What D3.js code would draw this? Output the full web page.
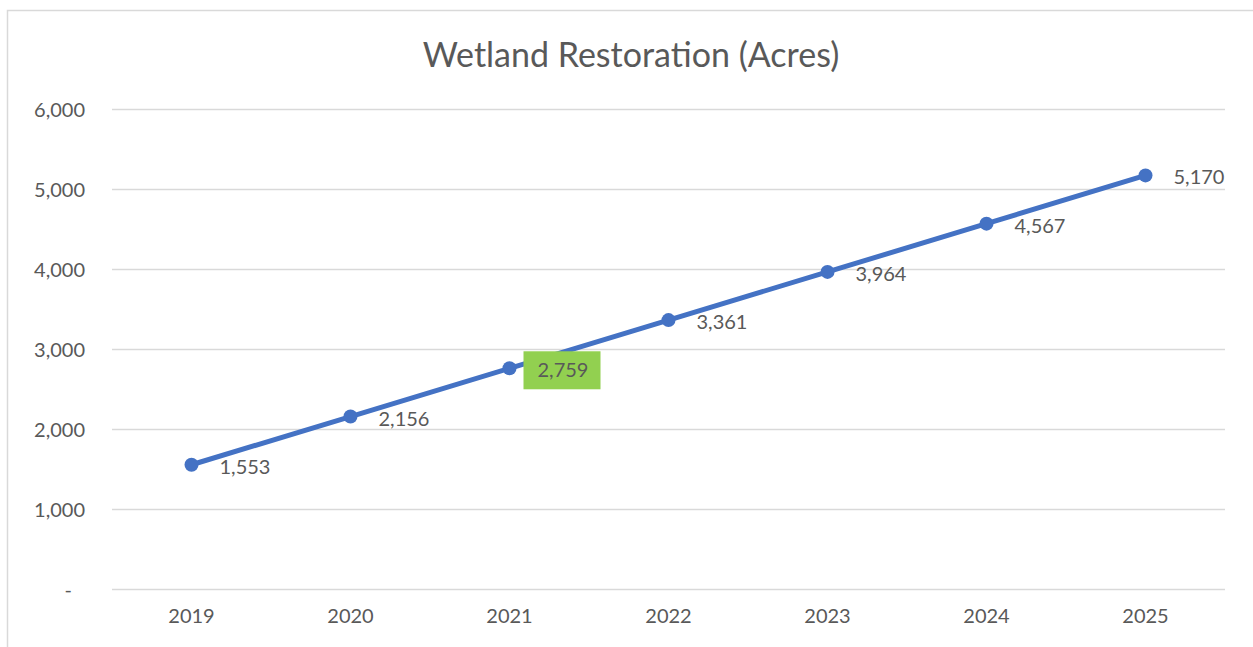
<!DOCTYPE html>
<html>
<head>
<meta charset="utf-8">
<script src="https://cdn.jsdelivr.net/npm/d3@7"></script>
<style>
  body { margin: 0; background: #fff; }
  text { font-family: Lato, "Open Sans", sans-serif; fill: #595959; }
</style>
</head>
<body>
<div id="chart"></div>
<script>
// chart data
var years = ["2019", "2020", "2021", "2022", "2023", "2024", "2025"];
var acres = [1553, 2156, 2759, 3361, 3964, 4567, 5170];
var yTicks = [0, 1000, 2000, 3000, 4000, 5000, 6000];
var highlightYear = "2021";

var width = 1253, height = 647;
var margin = {top: 109, right: 28, bottom: 58, left: 112};

var svg = d3.select("#chart").append("svg")
    .attr("width", width)
    .attr("height", height);

// chart area border (only top and left visible in the crop)
svg.append("path")
    .attr("d", "M7.5," + height + "V10.5H" + width)
    .attr("fill", "none")
    .attr("stroke", "#d9d9d9")
    .attr("stroke-width", 1.5);

var x = d3.scaleBand()
    .domain(years)
    .range([margin.left, width - margin.right]);

var y = d3.scaleLinear()
    .domain([0, 6000])
    .range([height - margin.bottom, margin.top]);

var fmt = d3.format(",");

// gridlines
svg.append("g")
    .selectAll("line")
    .data(yTicks)
    .enter().append("line")
    .attr("x1", margin.left)
    .attr("x2", width - margin.right)
    .attr("y1", function(d) { return y(d) + 0.5; })
    .attr("y2", function(d) { return y(d) + 0.5; })
    .attr("stroke", "#d9d9d9")
    .attr("stroke-width", 1.5);

// y axis labels
var yAxis = d3.axisLeft(y)
    .tickValues(yTicks)
    .tickSize(0)
    .tickPadding(0)
    .tickFormat(function(d) { return d === 0 ? "-" : fmt(d); });

var gy = svg.append("g")
    .attr("transform", "translate(85,0)")
    .call(yAxis);
gy.select(".domain").remove();
gy.selectAll("text")
    .attr("font-size", 20)
    .attr("fill", "#595959")
    .attr("dy", "0.35em")
    .attr("dx", function(d) { return d === 0 ? -13 : 0; });

// x axis labels
var xAxis = d3.axisBottom(x).tickSize(0).tickPadding(0);
var gx = svg.append("g")
    .attr("transform", "translate(0," + (y(0) + 20) + ")")
    .call(xAxis);
gx.select(".domain").remove();
gx.selectAll("text")
    .attr("font-size", 20)
    .attr("fill", "#595959")
    .attr("dy", "0.71em");

// title
svg.append("text")
    .attr("x", 631)
    .attr("y", 67)
    .attr("text-anchor", "middle")
    .attr("font-size", 34)
    .text("Wetland Restoration (Acres)");

var points = years.map(function(d, i) { return {year: d, value: acres[i]}; });

var line = d3.line()
    .x(function(d) { return x(d.year) + x.bandwidth() / 2; })
    .y(function(d) { return y(d.value); });

svg.append("path")
    .datum(points)
    .attr("d", line)
    .attr("fill", "none")
    .attr("stroke", "#4472c4")
    .attr("stroke-width", 5)
    .attr("stroke-linejoin", "round");

svg.selectAll("circle.pt")
    .data(points)
    .enter().append("circle")
    .attr("class", "pt")
    .attr("cx", function(d) { return x(d.year) + x.bandwidth() / 2; })
    .attr("cy", function(d) { return y(d.value); })
    .attr("r", 7)
    .attr("fill", "#4472c4");

// data labels
var labels = svg.selectAll("g.lbl")
    .data(points)
    .enter().append("g")
    .attr("class", "lbl")
    .attr("transform", function(d) {
        return "translate(" + (x(d.year) + x.bandwidth() / 2 + 28) + "," + (y(d.value) + 2) + ")";
    });

labels.filter(function(d) { return d.year === highlightYear; })
    .append("rect")
    .attr("x", -14)
    .attr("y", -19)
    .attr("width", 77)
    .attr("height", 38)
    .attr("fill", "#92d050");

labels.append("text")
    .attr("font-size", 20)
    .attr("dy", "0.35em")
    .attr("fill", "#404040")
    .text(function(d) { return fmt(d.value); });
</script>
</body>
</html>
